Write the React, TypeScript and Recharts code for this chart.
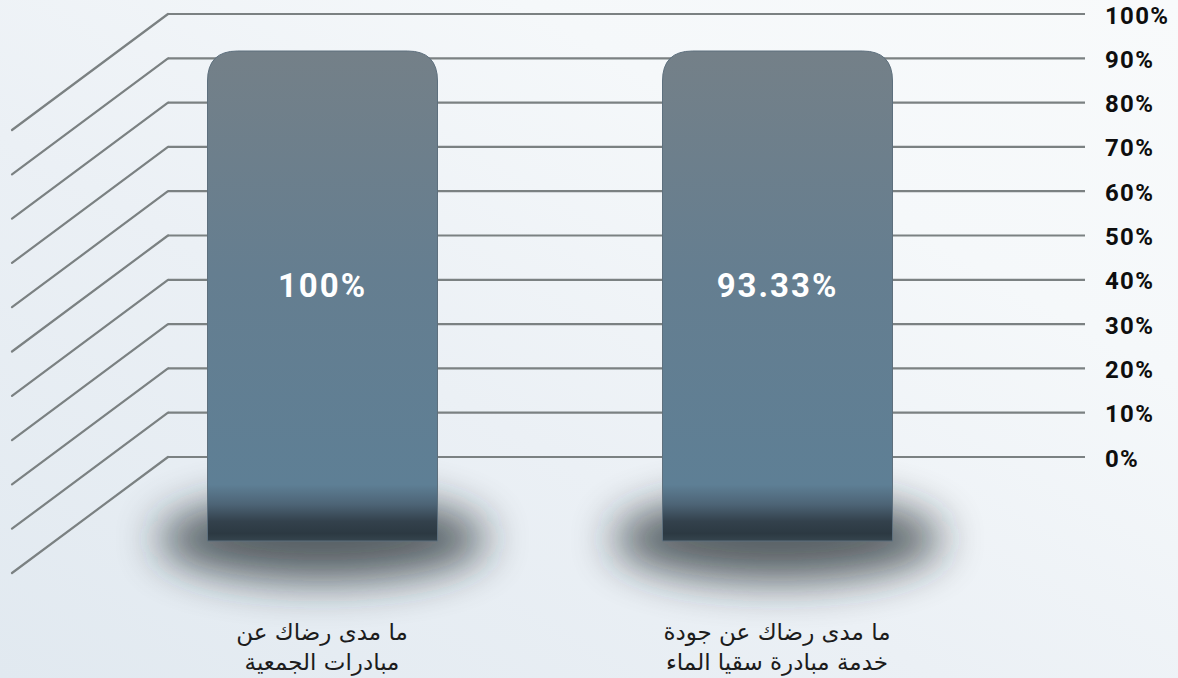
import React from "react";
import { BarChart, Bar, XAxis, YAxis, CartesianGrid } from "recharts";

const categories = [
  "ما مدى رضاك عن\nمبادرات الجمعية",
  "ما مدى رضاك عن جودة\nخدمة مبادرة سقيا الماء",
];
const satisfaction = [100, 93.33];
const valueLabels = ["100%", "93.33%"];
const yTicks = [0, 10, 20, 30, 40, 50, 60, 70, 80, 90, 100];
const yTickLabels = ["0%", "10%", "20%", "30%", "40%", "50%", "60%", "70%", "80%", "90%", "100%"];

const data = categories.map((c, i) => ({
  category: c,
  value: satisfaction[i],
  label: valueLabels[i],
}));

const GRID = "#7b8182";

const renderGridLine = (props: any) => {
  const { x1, x2, y1, index } = props;
  const sx = x1 + 73.5;
  return (
    <g key={`gl-${index}-${y1}`}>
      <line x1={sx} y1={y1} x2={x2} y2={y1} stroke={GRID} strokeWidth={2.2} />
      <line x1={sx} y1={y1} x2={sx - 156} y2={y1 + 116} stroke={GRID} strokeWidth={2.2} strokeLinecap="round" />
    </g>
  );
};

const Pillar = (props: any) => {
  const { x, width, background, payload, y, height } = props;
  const bgY = background ? background.y : y;
  const bgH = background ? background.height : height;
  const top = bgY + 37;
  const bottom = bgY + bgH + 84;
  const r = 30;
  const cx = x + width / 2;
  const d = `M${x},${bottom} L${x},${top + r} Q${x},${top} ${x + r},${top} L${x + width - r},${top} Q${x + width},${top} ${x + width},${top + r} L${x + width},${bottom} Z`;
  return (
    <g>
      <ellipse cx={cx} cy={bottom - 2} rx={width / 2 + 50} ry={42} fill="#1c262c" opacity={0.72} filter="url(#shadowBlur)" />
      <path d={d} fill="url(#pillarGrad)" stroke="#5d6f7d" strokeWidth={1} />
      <text
        x={cx}
        y={top + 246}
        textAnchor="middle"
        fill="#ffffff"
        fontFamily="Roboto, 'DejaVu Sans', sans-serif"
        fontWeight={700}
        fontSize={33}
        letterSpacing={2}
      >
        {payload.label}
      </text>
    </g>
  );
};

const XTick = (props: any) => {
  const { x, y, payload } = props;
  const lines = String(payload.value).split("\n");
  return (
    <g>
      {lines.map((ln, i) => (
        <text
          key={i}
          x={x}
          y={y + 175 + i * 30}
          textAnchor="middle"
          direction="rtl"
          fill="#1c1c1c"
          fontFamily="'DejaVu Sans', sans-serif"
          fontSize={23}
        >
          {ln}
        </text>
      ))}
    </g>
  );
};

const YTick = (props: any) => {
  const { x, y, payload } = props;
  const idx = yTicks.indexOf(payload.value);
  return (
    <text
      x={x}
      y={y + 9.5}
      textAnchor="start"
      fill="#0e0e0e"
      fontFamily="Roboto, sans-serif"
      fontWeight={700}
      fontSize={24}
      letterSpacing={1.3}
    >
      {idx >= 0 ? yTickLabels[idx] : payload.value}
    </text>
  );
};

export default function App() {
  return (
    <div
      style={{
        position: "absolute",
        left: 0,
        top: 0,
        width: 1178,
        height: 678,
        background: "linear-gradient(30deg, #e1e9f0 0%, #ebf0f5 40%, #f5f8fa 72%, #f8fafb 100%)",
        overflow: "hidden",
      }}
    >
      <BarChart
        width={1178}
        height={678}
        data={data}
        margin={{ top: 14, right: 0, bottom: 161, left: 94.5 }}
        barSize={230}
      >
        <defs>
          <linearGradient id="pillarGrad" x1="0" y1="0" x2="0" y2="1">
            <stop offset="0" stopColor="#748088" />
            <stop offset="0.45" stopColor="#657e90" />
            <stop offset="0.885" stopColor="#5e7f95" />
            <stop offset="0.925" stopColor="#4d6476" />
            <stop offset="0.96" stopColor="#33414c" />
            <stop offset="0.985" stopColor="#2c3942" />
            <stop offset="1" stopColor="#35444e" />
          </linearGradient>
          <filter id="shadowBlur" x="-50%" y="-150%" width="200%" height="400%">
            <feGaussianBlur stdDeviation="22" />
          </filter>
        </defs>
        <CartesianGrid vertical={false} horizontal={renderGridLine} stroke={GRID} />
        <XAxis
          dataKey="category"
          axisLine={false}
          tickLine={false}
          padding={{ left: 0, right: 80.5 }}
          height={60}
          tick={<XTick />}
          interval={0}
        />
        <YAxis
          orientation="right"
          domain={[0, 100]}
          ticks={yTicks}
          width={93}
          axisLine={false}
          tickLine={false}
          tickSize={6}
          tickMargin={14}
          tick={<YTick />}
          interval={0}
        />
        <Bar dataKey="value" shape={<Pillar />} isAnimationActive={false} />
      </BarChart>
    </div>
  );
}
